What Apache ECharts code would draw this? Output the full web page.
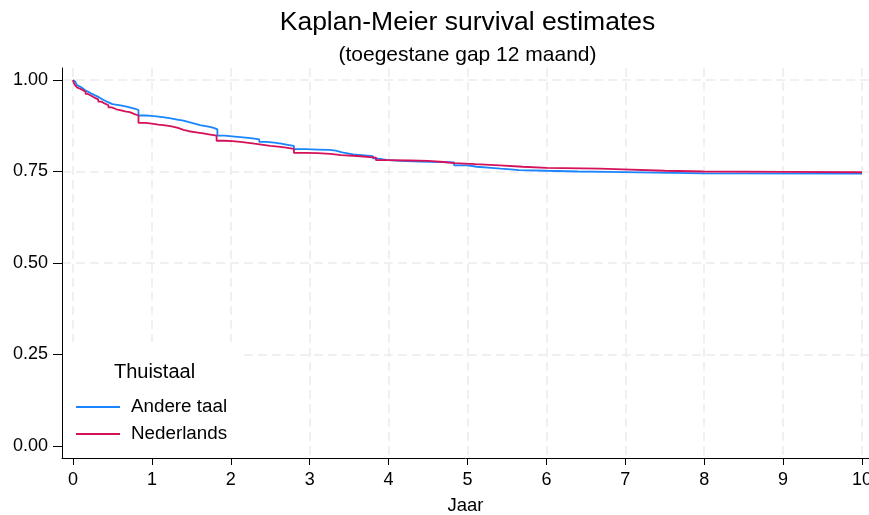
<!DOCTYPE html>
<html>
<head>
<meta charset="utf-8">
<script src="https://cdn.jsdelivr.net/npm/echarts@6/dist/echarts.min.js"></script>
<style>
  html, body { margin: 0; padding: 0; background: #fff; }
  #chart { width: 869px; height: 515px; }
</style>
</head>
<body>
<div id="chart"></div>
<script>
const FONT = '"Liberation Sans", Arial, Helvetica, sans-serif';

// Axis ticks
const jaarTicks = [0, 1, 2, 3, 4, 5, 6, 7, 8, 9, 10];
const survTicks = [0, 0.25, 0.5, 0.75, 1];

// Groups (Thuistaal)
const groepen = ['Andere taal', 'Nederlands'];

// Kaplan-Meier step estimates: [jaar, overleving]
const andereTaal = [
  [0, 1.000], [0.01, 0.995], [0.03, 0.990], [0.05, 0.986], [0.07, 0.981],
  [0.10, 0.976], [0.13, 0.971], [0.16, 0.967], [0.20, 0.962], [0.24, 0.958],
  [0.28, 0.954], [0.32, 0.949], [0.36, 0.944], [0.40, 0.939], [0.45, 0.934],
  [0.50, 0.932], [0.56, 0.930], [0.62, 0.927], [0.68, 0.924], [0.74, 0.921],
  [0.79, 0.918], [0.83, 0.903], [0.92, 0.902], [1.00, 0.900], [1.08, 0.898],
  [1.16, 0.895], [1.24, 0.892], [1.32, 0.889], [1.40, 0.885], [1.47, 0.881],
  [1.54, 0.877], [1.61, 0.874], [1.68, 0.871], [1.75, 0.868], [1.80, 0.865],
  [1.83, 0.848], [1.92, 0.846], [2.02, 0.844], [2.12, 0.842], [2.22, 0.840],
  [2.30, 0.838], [2.36, 0.831], [2.45, 0.829], [2.55, 0.826], [2.64, 0.823],
  [2.72, 0.820], [2.80, 0.811], [2.95, 0.810], [3.10, 0.809], [3.25, 0.807],
  [3.33, 0.802], [3.41, 0.797], [3.55, 0.795], [3.66, 0.792], [3.80, 0.786],
  [3.84, 0.781], [4.00, 0.779], [4.15, 0.777], [4.40, 0.776], [4.65, 0.775],
  [4.83, 0.767], [5.00, 0.763], [5.12, 0.760], [5.30, 0.758], [5.42, 0.756],
  [5.55, 0.754], [5.65, 0.752], [6.00, 0.750], [6.40, 0.749], [6.78, 0.745],
  [8.00, 0.744], [10.0, 0.744]
];

const nederlands = [
  [0, 1.000], [0.01, 0.992], [0.025, 0.986], [0.05, 0.980], [0.07, 0.976],
  [0.09, 0.973], [0.12, 0.968], [0.16, 0.962], [0.19, 0.957], [0.23, 0.952],
  [0.27, 0.947], [0.32, 0.941], [0.36, 0.936], [0.40, 0.931], [0.45, 0.925],
  [0.49, 0.920], [0.55, 0.917], [0.61, 0.914], [0.66, 0.912], [0.72, 0.907],
  [0.78, 0.903], [0.83, 0.883], [0.92, 0.881], [1.00, 0.878], [1.08, 0.876],
  [1.17, 0.873], [1.25, 0.869], [1.33, 0.864], [1.40, 0.860], [1.47, 0.857],
  [1.56, 0.854], [1.65, 0.851], [1.74, 0.848], [1.82, 0.834], [1.92, 0.833],
  [2.02, 0.831], [2.12, 0.829], [2.20, 0.826], [2.30, 0.823], [2.41, 0.820],
  [2.50, 0.818], [2.60, 0.815], [2.70, 0.812], [2.80, 0.801], [2.95, 0.800],
  [3.10, 0.798], [3.26, 0.795], [3.40, 0.793], [3.55, 0.791], [3.68, 0.788],
  [3.84, 0.781], [4.00, 0.780], [4.27, 0.779], [4.50, 0.776], [4.70, 0.773],
  [4.83, 0.770], [5.10, 0.767], [5.41, 0.763], [5.70, 0.760], [6.00, 0.758],
  [6.68, 0.756], [6.97, 0.752], [7.50, 0.750], [7.99, 0.749], [9.00, 0.748],
  [10.0, 0.747]
];

const kleuren = ['#1a85ff', '#d41159'];

const gridLine = { color: '#ebebeb', width: 1.5, type: [9, 5] };

const chart = echarts.init(document.getElementById('chart'), null, { renderer: 'canvas' });

chart.setOption({
  animation: false,
  backgroundColor: '#ffffff',
  textStyle: { fontFamily: FONT },
  grid: { left: 62, right: 0, top: 68, bottom: 57, containLabel: false, outerBoundsMode: 'none' },
  xAxis: {
    type: 'value',
    min: -0.1394,
    max: 10.0887,
    name: 'Jaar',
    nameLocation: 'middle',
    nameGap: 38,
    nameTextStyle: { fontSize: 18.5, color: '#000', fontFamily: FONT },
    axisLine: { show: true, onZero: false, lineStyle: { color: '#000', width: 1 } },
    axisTick: { show: true, length: 7, customValues: jaarTicks, lineStyle: { color: '#000', width: 1 } },
    axisLabel: {
      show: true, customValues: jaarTicks, margin: 13,
      fontSize: 18, color: '#000', fontFamily: FONT,
      formatter: v => String(v)
    },
    splitLine: { show: true, lineStyle: gridLine }
  },
  yAxis: {
    type: 'value',
    min: -0.0328,
    max: 1.0328,
    axisLine: { show: true, onZero: false, lineStyle: { color: '#000', width: 1 } },
    axisTick: { show: true, length: 9, customValues: survTicks, lineStyle: { color: '#000', width: 1 } },
    axisLabel: {
      show: true, customValues: survTicks, margin: 14,
      fontSize: 18, color: '#000', fontFamily: FONT,
      formatter: v => v.toFixed(2)
    },
    splitLine: { show: true, showMinLine: false, lineStyle: gridLine }
  },
  legend: {
    data: groepen,
    orient: 'vertical',
    left: 76,
    top: 397,
    padding: 0,
    icon: 'rect',
    itemWidth: 44,
    itemHeight: 2,
    itemGap: 7,
    z: 6,
    textStyle: { fontSize: 18.8, lineHeight: 20, color: '#000', fontFamily: FONT, padding: [0, 0, 0, 6] }
  },
  graphic: [
    {
      type: 'rect', z: 5, silent: true,
      shape: { x: 63, y: 342, width: 180, height: 115.5 },
      style: { fill: '#ffffff' }
    },
    {
      type: 'text', z: 7, silent: true, x: 154.5, y: 372,
      style: { text: 'Thuistaal', fontSize: 20, fontFamily: FONT, fill: '#000', align: 'center', verticalAlign: 'middle' }
    },
    {
      type: 'text', z: 7, silent: true, x: 467.5, y: 22.5,
      style: { text: 'Kaplan-Meier survival estimates', fontSize: 26.5, fontFamily: FONT, fill: '#000', align: 'center', verticalAlign: 'middle' }
    },
    {
      type: 'text', z: 7, silent: true, x: 467.5, y: 55.5,
      style: { text: '(toegestane gap 12 maand)', fontSize: 21, fontFamily: FONT, fill: '#000', align: 'center', verticalAlign: 'middle' }
    }
  ],
  series: [
    {
      name: groepen[0], type: 'line', step: 'end', data: andereTaal,
      showSymbol: false, symbol: 'none', color: kleuren[0],
      lineStyle: { width: 1.8, color: kleuren[0] }, z: 2
    },
    {
      name: groepen[1], type: 'line', step: 'end', data: nederlands,
      showSymbol: false, symbol: 'none', color: kleuren[1],
      lineStyle: { width: 1.8, color: kleuren[1] }, z: 3
    }
  ]
});
</script>
</body>
</html>
